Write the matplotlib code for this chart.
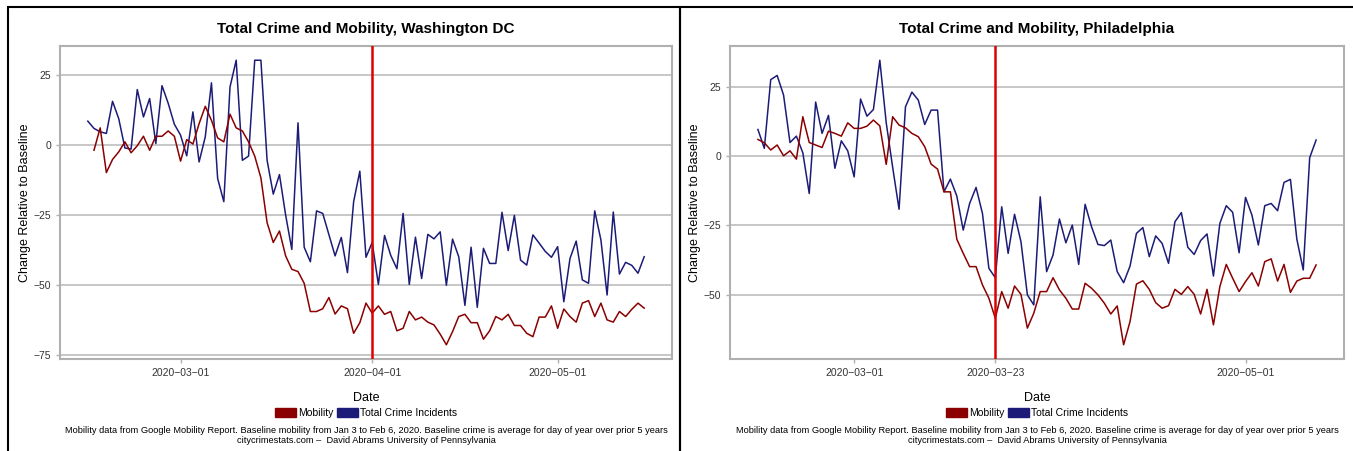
import matplotlib
matplotlib.use("Agg")
import matplotlib.pyplot as plt
import matplotlib.dates as mdates
from matplotlib.patches import Patch, Rectangle
import pandas as pd

plt.rcParams['font.family'] = ['Liberation Sans', 'DejaVu Sans']

# Washington DC: crime from Feb 15, mobility from Feb 16 (to May 15)
dc_crime_start = "2020-02-15"
dc_crime = [8.6, 6.0, 4.8, 4.2, 15.7, 9.5, -1.0, -1.4, 19.9, 10.1, 16.7, 0.6, 21.3, 15.0, 7.5,
            3.6, -3.8, 11.9, -6.0, 3.0, 22.3, -11.9, -20.2, 20.8, 30.4, -5.4, -3.9, 30.4, 30.4, -5.4,
            -17.5, -10.5, -25.0, -37.3, 8.0, -36.5, -41.7, -23.5, -24.4, -32.0, -39.6, -33.0, -45.6,
            -20.2, -9.3, -40.1,
            -34.8, -49.8, -32.3, -39.4, -44.2, -24.4, -49.8, -32.9, -47.7, -31.9, -33.5, -31.0, -50.1,
            -33.6, -39.9, -57.3, -36.5, -58.0, -36.9, -42.3, -42.3, -24.0, -37.7, -25.1, -41.1, -42.9,
            -32.1, -35.0, -38.0, -40.1,
            -36.3, -56.0, -40.5, -34.3, -48.2, -49.4, -23.5, -33.9, -53.6, -23.9, -46.1, -41.9, -43.0,
            -45.8, -39.9]
dc_mob_start = "2020-02-16"
dc_mob = [-1.8, 6.2, -9.8, -5.1, -2.4, 1.2, -2.7, -0.2, 3.2, -1.8, 3.2, 3.2, 5.1, 3.2,
          -5.7, 2.0, 0.4, 7.7, 13.9, 8.9, 2.6, 1.2, 11.1, 6.2, 5.1, 1.2, -3.9, -11.7, -27.7,
          -34.8, -30.7, -39.6, -44.4, -45.2, -49.4, -59.5, -59.5, -58.5, -54.5, -60.4, -57.5, -58.5,
          -67.3, -63.5, -56.5,
          -60.1, -57.5, -60.5, -59.5, -66.4, -65.5, -59.5, -62.5, -61.5, -63.3, -64.3, -67.6, -71.4,
          -66.7, -61.3, -60.5, -63.5, -63.5, -69.4, -66.4, -61.3, -62.5, -60.5, -64.5, -64.5, -67.3,
          -68.5, -61.5, -61.5, -57.5,
          -65.5, -58.6, -61.3, -63.3, -56.5, -55.6, -61.3, -56.5, -62.5, -63.3, -59.5, -61.3, -58.7,
          -56.5, -58.3]
dc_order = "2020-04-01"
dc_ticks = ["2020-03-01", "2020-04-01", "2020-05-01"]

# Philadelphia: both series Feb 15 to May 12
phl_start = "2020-02-15"
phl_crime = [9.6, 2.8, 27.6, 29.1, 22.0, 4.9, 7.2, 1.2, -13.5, 19.5, 8.2, 14.7, -4.4, 5.5, 1.9,
             -7.5, 20.6, 14.4, 16.8, 34.6, 12.0, -4.0, -19.2, 17.8, 23.1, 20.2, 11.4, 16.6, 16.6,
             -12.9, -8.3, -14.4, -26.7, -17.1, -11.3, -20.7, -40.5, -43.9, -18.3, -35.1, -21.0,
             -30.9, -50.1, -53.7, -14.7, -41.7,
             -35.7, -22.7, -31.3, -24.9, -39.1, -17.4, -25.5, -31.9, -32.3, -30.3, -41.7, -45.7,
             -39.7, -27.9, -25.8, -36.3, -28.8, -31.5, -38.7, -23.7, -20.4, -32.9, -35.5, -30.5,
             -28.1, -43.3, -24.3, -17.9, -20.3, -34.9,
             -14.9, -21.3, -32.1, -17.9, -17.1, -19.7, -9.5, -8.4, -30.0, -41.1, -0.6, 5.8]
phl_mob = [6.0, 4.8, 2.2, 4.0, 0.1, 1.9, -1.1, 14.2, 4.9, 4.0, 3.1, 9.0, 8.2, 7.2, 12.0,
           10.0, 10.0, 10.8, 13.0, 10.9, -3.0, 14.2, 11.2, 10.2, 8.2, 7.0, 3.4, -2.9, -4.7,
           -12.9, -12.9, -30.0, -35.1, -39.9, -39.9, -46.5, -51.3, -58.5, -48.9, -54.9, -46.9,
           -49.9, -62.1, -56.7, -48.9, -48.9,
           -43.9, -48.3, -51.3, -55.2, -55.2, -45.9, -47.7, -50.1, -53.1, -57.0, -54.1, -68.1,
           -59.7, -46.2, -45.0, -48.1, -52.9, -54.9, -54.0, -48.1, -49.9, -47.1, -49.9, -57.0,
           -48.1, -60.9, -47.1, -39.1, -44.1, -48.9,
           -45.3, -42.1, -46.9, -38.1, -37.1, -45.1, -39.1, -49.2, -45.1, -44.1, -44.1, -39.3]
phl_order = "2020-03-23"
phl_ticks = ["2020-03-01", "2020-03-23", "2020-05-01"]

mob_color = "#8b0000"
crime_color = "#1c1c78"
W, H = 1353, 451


def days(start, n):
    return pd.date_range(start, periods=n, freq="D")


def draw_panel(ax, title, crime_start, crime, mob_start, mob, order, ticks):
    ax.plot(days(crime_start, len(crime)), crime, color=crime_color, lw=1.1)
    ax.plot(days(mob_start, len(mob)), mob, color=mob_color, lw=1.1)
    ax.axvline(pd.Timestamp(order), color="#dd0000", lw=1.8, zorder=3)
    ax.margins(x=0.05, y=0.05)

    ylim = ax.get_ylim()
    ax.set_yticks([v for v in [25, 0, -25, -50, -75] if ylim[0] <= v <= ylim[1]])
    ax.set_ylim(ylim)
    ax.set_xticks([pd.Timestamp(t) for t in ticks])
    ax.xaxis.set_major_formatter(mdates.DateFormatter("%Y\u2212%m\u2212%d"))
    ax.grid(axis="y", color="#bdbdbd", lw=1.2)
    ax.set_axisbelow(True)
    for sp in ax.spines.values():
        sp.set_color("#b0b0b0")
        sp.set_linewidth(1.5)
    ax.tick_params(colors="#b0b0b0", labelcolor="#333333", labelsize=7.5, length=3, width=1)

    ax.text(0.5, 1.054, title, transform=ax.transAxes, ha="center", va="center",
            fontsize=11, fontweight="bold")
    ax.set_xlabel("Date", fontsize=9)
    ax.xaxis.set_label_coords(0.5, -0.105)
    ax.set_ylabel("Change Relative to Baseline", fontsize=9)
    ax.yaxis.set_label_coords(-0.047, 0.5)

    handles = [Patch(color=mob_color, label="Mobility"),
               Patch(color=crime_color, label="Total Crime Incidents")]
    ax.legend(handles=handles, loc="center", bbox_to_anchor=(0.5, -0.173), ncol=2,
              frameon=False, fontsize=7.5, handlelength=2, handleheight=1,
              handletextpad=0.2, columnspacing=0.3)
    ax.text(0.5, -0.227, "Mobility data from Google Mobility Report. Baseline mobility from Jan 3 to "
            "Feb 6, 2020. Baseline crime is average for day of year over prior 5 years",
            transform=ax.transAxes, ha="center", va="center", fontsize=6.7)
    ax.text(0.5, -0.259, "citycrimestats.com \u2013  David Abrams University of Pennsylvania",
            transform=ax.transAxes, ha="center", va="center", fontsize=6.7)


fig = plt.figure(figsize=(W / 100, H / 100), dpi=100)
ax1 = fig.add_axes([60 / W, (H - 359) / H, 612 / W, 313 / H])
ax2 = fig.add_axes([730 / W, (H - 359) / H, 614 / W, 313 / H])

draw_panel(ax1, "Total Crime and Mobility, Washington DC", dc_crime_start, dc_crime,
           dc_mob_start, dc_mob, dc_order, dc_ticks)
draw_panel(ax2, "Total Crime and Mobility, Philadelphia", phl_start, phl_crime,
           phl_start, phl_mob, phl_order, phl_ticks)

# black frames around the two panels
fig.add_artist(Rectangle((8 / W, -0.1), 672 / W, 1.1 - 7 / H, transform=fig.transFigure,
                         fill=False, ec="black", lw=1.5))
fig.add_artist(Rectangle((680 / W, -0.1), 680 / W, 1.1 - 7 / H, transform=fig.transFigure,
                         fill=False, ec="black", lw=1.5))

fig.savefig("out.png", dpi=100)
